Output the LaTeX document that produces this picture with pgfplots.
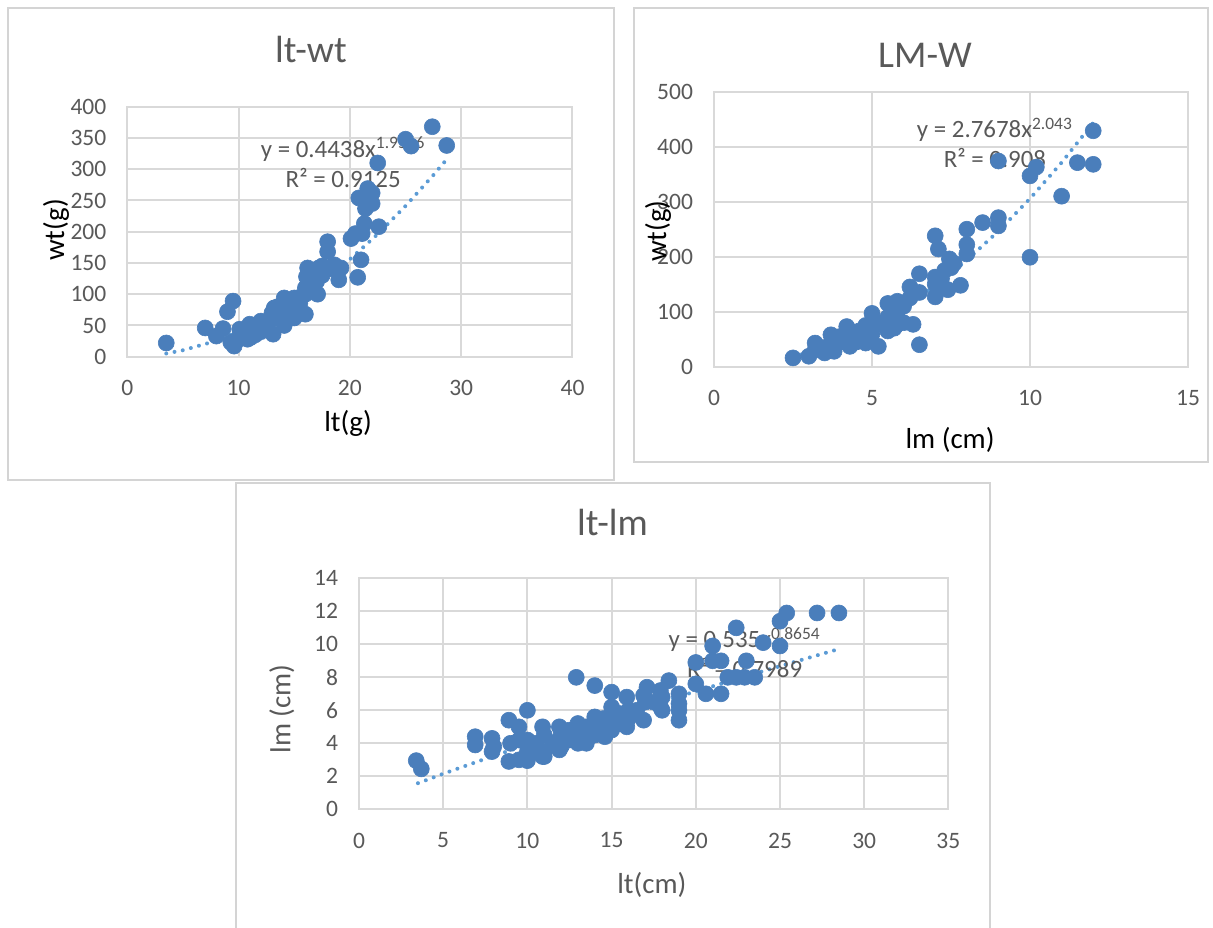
\documentclass[border=0pt]{standalone}
\usepackage{fontspec}
\setmainfont{Carlito}
\usepackage{pgfplots}
\pgfplotsset{compat=1.18}
\definecolor{gridgray}{RGB}{217,217,217}
\definecolor{framegray}{RGB}{212,212,212}
\definecolor{txtgray}{RGB}{89,89,89}
\definecolor{mkblue}{RGB}{74,126,187}
\definecolor{trblue}{RGB}{91,155,213}
\tikzset{
  eqn/.style={font=\fontsize{12.5}{15}\selectfont, text=txtgray, align=center},
  lab/.style={font=\fontsize{14.5}{17}\selectfont},
}
\pgfplotsset{
  xlbase/.style={
    scale only axis,
    axis line style={draw=gridgray, line width=1bp},
    grid=major,
    major grid style={draw=gridgray, line width=1bp},
    major tick length=0pt,
    tick style={draw=none},
    tick label style={font=\fontsize{11.8}{13}\selectfont, text=txtgray},
    /pgf/number format/assume math mode=true,
    scaled ticks=false,
    xticklabel style={yshift=-8.2bp},
    yticklabel style={xshift=-7.0bp},
    clip=false,
  },
  pts/.style={only marks, mark=*, mark size=4bp, mark options={fill=mkblue, draw=mkblue, line width=0.3bp}},
  trend/.style={no marks, trblue, line width=2bp, line cap=round, dash pattern=on 0bp off 4.2bp},
}
\begin{document}
\begin{tikzpicture}
\path[use as bounding box, fill=white] (0,0) rectangle (606.5bp,-464bp);
\draw[framegray, line width=0.9bp] (4bp,-4bp) rectangle (307bp,-240bp);
\draw[framegray, line width=0.9bp] (317bp,-4bp) rectangle (604bp,-231bp);
\draw[framegray, line width=0.9bp] (118bp,-470bp) -- (118bp,-241.5bp) -- (495bp,-241.5bp) -- (495bp,-470bp);

\node[anchor=base, font=\fontsize{19}{21}\selectfont, text=txtgray] at (155.5bp,-31.15bp) {lt-wt};
\node[anchor=base, font=\fontsize{19}{21}\selectfont, text=txtgray] at (462.5bp,-33.8bp) {LM-W};
\node[anchor=base, font=\fontsize{19}{21}\selectfont, text=txtgray] at (306.25bp,-267.5bp) {lt-lm};

% Panel 1: lt-wt
\begin{axis}[xlbase, at={(63.65bp,-178.35bp)}, anchor=south west, width=222.6bp, height=125bp,
  xmin=0, xmax=40, ymin=0, ymax=400, xtick={0,10,20,30,40}, ytick={0,50,100,150,200,250,300,350,400},
  xlabel={lt(g)}, ylabel={wt(g)},
  xlabel style={lab, at={(axis description cs:0.496,-0.265)}, anchor=center, text=black},
  ylabel style={lab, at={(axis description cs:-0.160,0.507)}, anchor=center, text=black}]
\addplot[pts] coordinates {
(3.5,22) (7.0,46) (8.0,33) (8.6,45) (9.0,72) (9.5,89) (9.3,23) (9.6,17) (10.1,44) (10.0,30)
(10.5,35) (11.0,52) (11.1,31) (11.0,40) (11.5,45) (12.0,57) (12.0,40) (12.5,55) (12.5,45)
(13.1,36) (13.2,78) (13.0,60) (13.0,70) (13.5,65) (13.5,80) (14.1,94) (14.1,50) (14.0,70)
(14.0,85) (14.5,75) (14.5,90) (15.0,94) (15.0,62) (15.0,80) (15.5,85) (15.5,95) (16.0,68)
(16.0,100) (16.0,110) (16.1,128) (16.2,142) (16.5,115) (16.5,130) (17.0,120) (17.1,100)
(17.2,142) (17.5,130) (17.5,145) (18.0,184) (18.0,168) (18.0,140) (18.6,147) (19.0,123)
(19.2,142) (20.1,189) (20.5,197) (20.7,127) (21.0,155) (21.1,197) (21.3,213) (20.8,254)
(21.4,237) (21.6,269) (22.0,262) (22.0,245) (22.6,208) (22.5,310) (25.0,348) (25.5,337)
(27.4,368) (28.7,338) (9.8,25) (10.8,28) (11.5,35) (12.2,48)
};
\addplot[trend] coordinates {
(3.5,5.15) (5,10.35) (7.5,22.87) (10,40.16) (12.5,62.13) (15,88.8) (17.5,120.0)
(20,155.8) (22.5,196.2) (25,241.2) (27.5,290.6) (28.6,313.7)
};
\node[eqn] at (axis cs:19.4,311) {y = 0.4438x\textsuperscript{1.9566}\\R² = 0.9125};
\end{axis}

% Panel 2: LM-W
\begin{axis}[xlbase, at={(357bp,-183.35bp)}, anchor=south west, width=237bp, height=137.5bp,
  xmin=0, xmax=15, ymin=0, ymax=500, xtick={0,5,10,15}, ytick={0,100,200,300,400,500},
  xlabel={lm (cm)}, ylabel={wt(g)},
  xlabel style={lab, at={(axis description cs:0.498,-0.267)}, anchor=center, text=black},
  ylabel style={lab, at={(axis description cs:-0.118,0.493)}, anchor=center, text=black}]
\addplot[pts] coordinates {
(2.5,16) (3.0,19) (3.2,43) (3.5,25) (3.7,58) (3.8,28) (3.2,30) (3.5,35) (3.8,40) (4.0,45)
(4.0,55) (4.2,73) (4.2,50) (4.3,37) (4.3,65) (4.5,55) (4.5,45) (4.6,65) (4.8,43) (4.8,75)
(5.0,97) (5.0,70) (5.0,60) (5.2,37) (5.2,80) (5.5,115) (5.5,65) (5.5,90) (5.5,80) (5.7,70)
(5.8,77) (5.8,100) (5.8,119) (6.0,80) (6.0,110) (6.2,125) (6.2,145) (6.3,77) (6.5,169)
(6.5,40) (6.5,135) (7.0,163) (7.0,127) (7.0,150) (7.0,238) (7.1,214) (7.2,160) (7.3,175)
(7.4,140) (7.45,196) (7.5,180) (7.6,188) (7.8,148) (8.0,250) (8.0,222) (8.0,205) (8.5,262)
(9.0,271) (9.0,256) (9.0,374) (10.0,199) (10.0,347) (10.2,363) (11.0,310) (11.5,371)
(12.0,368) (12.0,429)
};
\addplot[trend] coordinates {
(2.5,18.0) (3,26.1) (4,47.0) (5,74.2) (6,107.6) (7,147.4) (8,193.7) (9,246.4)
(10,305.6) (11,371.2) (12,443.5)
};
\node[eqn] at (axis cs:8.89,407) {y = 2.7678x\textsuperscript{2.043}\\R² = 0.908};
\end{axis}

% Panel 3: lt-lm
\begin{axis}[xlbase, at={(179.5bp,-404.65bp)}, anchor=south west, width=294.7bp, height=115.5bp,
  xmin=0, xmax=35, ymin=0, ymax=14, xtick={0,5,10,15,20,25,30,35}, ytick={0,2,4,6,8,10,12,14},
  xlabel={lt(cm)}, ylabel={lm (cm)},
  xlabel style={lab, at={(axis description cs:0.497,-0.328)}, anchor=center, text=txtgray},
  ylabel style={lab, at={(axis description cs:-0.131,0.434)}, anchor=center, text=txtgray}]
\addplot[pts] coordinates {
(3.4,2.95) (3.7,2.45) (6.9,4.4) (6.9,3.9) (7.9,4.3) (7.9,3.5) (8.9,5.4) (8.9,2.9) (9.5,5.0)
(10.0,6.0) (10.0,4.2) (10.0,2.95) (10.9,5.0) (10.9,3.2) (11.9,5.0) (11.9,3.6) (13.0,5.2)
(12.9,8.0) (13.5,4.0) (14.0,7.5) (14.0,5.6) (14.6,4.4) (15.0,7.1) (15.0,6.2) (15.2,5.4)
(15.9,6.8) (15.9,5.0) (16.9,6.9) (17.1,7.4) (16.9,5.4) (17.9,7.2) (17.9,6.2) (18.4,7.8)
(19.0,7.0) (19.0,6.4) (19.0,6.0) (19.0,5.4) (20.0,7.6) (20.0,8.9) (20.6,7.0) (21.5,7.0)
(21.0,9.9) (21.0,9.0) (21.5,9.0) (21.9,8.0) (22.4,8.0) (22.9,8.0) (23.5,8.0) (22.4,11.0)
(23.0,9.0) (24.0,10.1) (25.0,9.9) (25.0,11.4) (25.4,11.9) (27.2,11.9) (28.5,11.9)
(9.5,3.0) (10.5,3.5) (10.5,4.0) (11.0,3.5) (11.0,4.5) (11.5,4.0) (12.0,4.0) (12.0,4.5)
(12.5,4.2) (12.5,4.8) (13.0,4.5) (13.0,4.0) (13.5,4.6) (13.5,5.0) (14.0,4.5) (14.0,5.2)
(14.5,5.0) (14.5,5.5) (15.0,4.8) (15.0,5.8) (15.5,5.2) (15.5,5.8) (16.0,5.5) (16.0,6.0)
(16.5,6.0) (9.0,4.0) (9.5,4.2) (8.0,3.8) (10.0,3.5) (11.0,3.2) (12.0,3.8) (17.0,6.5)
(17.5,6.5) (18.0,6.8) (18.0,6.0)
};
\addplot[trend] coordinates {
(3.5,1.582) (5,2.154) (7.5,3.060) (10,3.924) (12.5,4.760) (15,5.575) (17.5,6.372)
(20,7.148) (22.5,7.917) (25,8.674) (27.5,9.420) (28.6,9.744)
};
\node[eqn] at (axis cs:22.9,9.5) {y = 0.535x\textsuperscript{0.8654}\\R² = 0.7989};
\end{axis}
\end{tikzpicture}
\end{document}
